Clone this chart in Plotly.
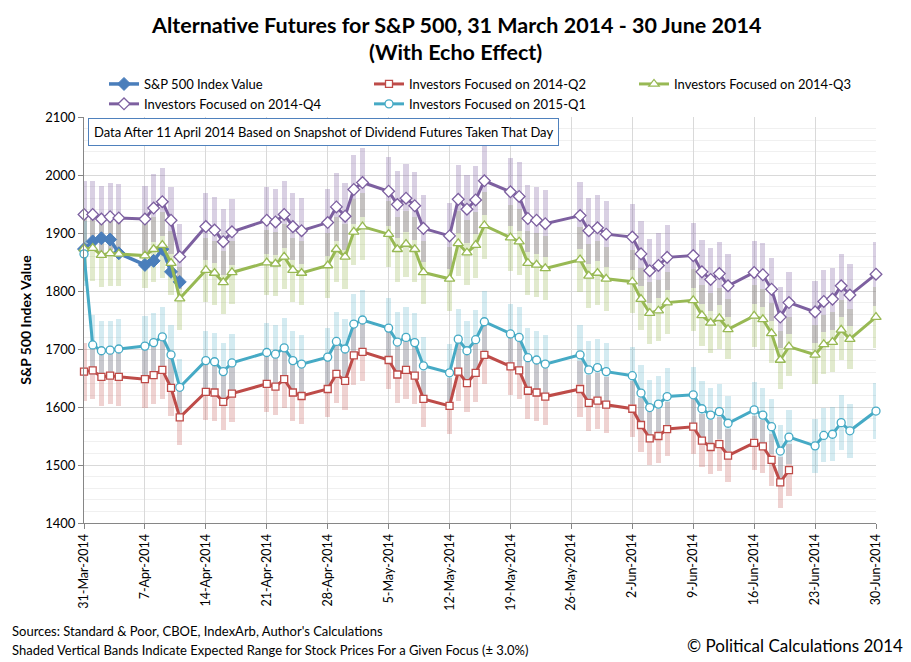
import plotly.graph_objects as go

dates = [
    "2014-03-31", "2014-04-01", "2014-04-02", "2014-04-03", "2014-04-04",
    "2014-04-07", "2014-04-08", "2014-04-09", "2014-04-10", "2014-04-11",
    "2014-04-14", "2014-04-15", "2014-04-16", "2014-04-17",
    "2014-04-21", "2014-04-22", "2014-04-23", "2014-04-24", "2014-04-25",
    "2014-04-28", "2014-04-29", "2014-04-30", "2014-05-01", "2014-05-02",
    "2014-05-05", "2014-05-06", "2014-05-07", "2014-05-08", "2014-05-09",
    "2014-05-12", "2014-05-13", "2014-05-14", "2014-05-15", "2014-05-16",
    "2014-05-19", "2014-05-20", "2014-05-21", "2014-05-22", "2014-05-23",
    "2014-05-27", "2014-05-28", "2014-05-29", "2014-05-30",
    "2014-06-02", "2014-06-03", "2014-06-04", "2014-06-05", "2014-06-06",
    "2014-06-09", "2014-06-10", "2014-06-11", "2014-06-12", "2014-06-13",
    "2014-06-16", "2014-06-17", "2014-06-18", "2014-06-19", "2014-06-20",
    "2014-06-23", "2014-06-24", "2014-06-25", "2014-06-26", "2014-06-27",
    "2014-06-30",
]

sp500 = [1872.34, 1885.52, 1890.90, 1888.77, 1865.09,
         1845.04, 1851.96, 1872.18, 1833.08, 1815.69]

q2_2014 = [1661, 1663, 1652, 1654, 1652,
           1648, 1655, 1664, 1633, 1582,
           1626, 1625, 1609, 1623,
           1640, 1635, 1648, 1625, 1619,
           1631, 1657, 1645, 1689, 1695,
           1681, 1656, 1664, 1654, 1614,
           1602, 1661, 1641, 1659, 1690,
           1670, 1663, 1628, 1625, 1618,
           1631, 1607, 1611, 1604,
           1597, 1569, 1546, 1550, 1562,
           1566, 1542, 1531, 1536, 1516,
           1538, 1532, 1509, 1470, 1491]

q3_2014 = [1873, 1874, 1862, 1865, 1864,
           1861, 1872, 1879, 1848, 1787,
           1836, 1831, 1815, 1832,
           1849, 1847, 1859, 1836, 1831,
           1844, 1872, 1859, 1902, 1911,
           1898, 1872, 1881, 1872, 1832,
           1821, 1882, 1866, 1879, 1913,
           1892, 1885, 1848, 1845, 1839,
           1854, 1826, 1831, 1821,
           1816, 1786, 1762, 1766, 1780,
           1784, 1758, 1745, 1753, 1734,
           1757, 1751, 1727, 1681, 1704,
           1690, 1708, 1712, 1733, 1717,
           1755]

q4_2014 = [1932, 1932, 1924, 1928, 1926,
           1924, 1943, 1954, 1922, 1859,
           1911, 1905, 1885, 1902,
           1922, 1919, 1932, 1911, 1904,
           1918, 1945, 1929, 1975, 1987,
           1972, 1949, 1960, 1947, 1908,
           1895, 1958, 1941, 1957, 1990,
           1971, 1963, 1925, 1922, 1916,
           1930, 1904, 1909, 1898,
           1893, 1864, 1835, 1844, 1858,
           1861, 1833, 1820, 1830, 1809,
           1832, 1828, 1803, 1755, 1780,
           1764, 1782, 1786, 1809, 1793,
           1829]

q1_2015 = [1864, 1707, 1697, 1698, 1700,
           1705, 1711, 1721, 1690, 1634,
           1680, 1678, 1661, 1676,
           1694, 1691, 1702, 1680, 1674,
           1686, 1713, 1700, 1743, 1750,
           1736, 1712, 1720, 1711, 1671,
           1659, 1717, 1697, 1716, 1747,
           1726, 1720, 1685, 1681, 1674,
           1690, 1664, 1668, 1661,
           1654, 1624, 1599, 1605, 1618,
           1621, 1597, 1586, 1592, 1572,
           1595, 1586, 1566, 1524, 1548,
           1533, 1551, 1553, 1573, 1559,
           1593]

band_pct = 0.03

tick_dates = ["2014-03-31", "2014-04-07", "2014-04-14", "2014-04-21", "2014-04-28",
              "2014-05-05", "2014-05-12", "2014-05-19", "2014-05-26", "2014-06-02",
              "2014-06-09", "2014-06-16", "2014-06-23", "2014-06-30"]
tick_labels = ["31-Mar-2014", "7-Apr-2014", "14-Apr-2014", "21-Apr-2014", "28-Apr-2014",
               "5-May-2014", "12-May-2014", "19-May-2014", "26-May-2014", "2-Jun-2014",
               "9-Jun-2014", "16-Jun-2014", "23-Jun-2014", "30-Jun-2014"]

FONT = "Lato"
W, H = 911, 662
L, R, T, B = 84, 35, 117, 139
PW, PH = W - L - R, H - T - B


def px2x(px):
    return (px - L) / PW


def px2y(py):
    return (H - B - py) / PH


fig = go.Figure()

bands = [
    (q2_2014, "rgba(192,80,77,0.26)"),
    (q3_2014, "rgba(155,187,89,0.30)"),
    (q4_2014, "rgba(128,100,162,0.30)"),
    (q1_2015, "rgba(75,172,198,0.24)"),
]
DAY = 86400000
for vals, col in bands:
    n = len(vals)
    fig.add_trace(go.Bar(
        x=dates[:n], y=[v * 2 * band_pct for v in vals],
        base=[v * (1 - band_pct) for v in vals],
        width=0.6 * DAY, marker=dict(color=col, line=dict(width=0)),
        showlegend=False, hoverinfo="skip",
    ))

series = [
    ("S&P 500 Index Value", sp500, "#4A7EBB", 3.5, dict(symbol="diamond", size=10, color="#4A7EBB",
                                                        line=dict(color="#4A7EBB", width=1))),
    ("Investors Focused on 2014-Q2", q2_2014, "#BE4B48", 3, dict(symbol="square", size=7, color="white",
                                                               line=dict(color="#BE4B48", width=1.3))),
    ("Investors Focused on 2014-Q3", q3_2014, "#98B954", 3, dict(symbol="triangle-up", size=9, color="white",
                                                               line=dict(color="#98B954", width=1.3))),
    ("Investors Focused on 2014-Q4", q4_2014, "#7D60A0", 3, dict(symbol="diamond", size=9, color="white",
                                                               line=dict(color="#7D60A0", width=1.3))),
    ("Investors Focused on 2015-Q1", q1_2015, "#46AAC5", 3, dict(symbol="circle", size=8, color="white",
                                                               line=dict(color="#46AAC5", width=1.3))),
]
for name, vals, col, lw, mk in series:
    n = len(vals)
    fig.add_trace(go.Scatter(
        x=dates[:n], y=vals, mode="lines+markers", name=name,
        line=dict(color=col, width=lw), marker=mk, cliponaxis=False,
    ))

fig.update_layout(
    width=W, height=H,
    margin=dict(l=L, r=R, t=T, b=B),
    paper_bgcolor="white", plot_bgcolor="white",
    barmode="overlay", bargap=0,
    font=dict(family=FONT, size=12, color="black"),
    legend=dict(
        orientation="h", x=px2x(104), y=px2y(69), xanchor="left", yanchor="top",
        entrywidth=220, entrywidthmode="pixels", tracegroupgap=0,
        font=dict(family=FONT, size=13), bgcolor="rgba(0,0,0,0)",
        itemwidth=30,
    ),
    showlegend=True,
)

fig.update_xaxes(
    type="date", range=["2014-03-31", "2014-06-30"],
    tickmode="array", tickvals=tick_dates, ticktext=tick_labels,
    tickangle=-90, tickfont=dict(family=FONT, size=12.5),
    showgrid=True, gridcolor="#D9D9D9", gridwidth=1,
    showline=True, linecolor="#868686", linewidth=1,
    ticks="outside", ticklen=5, tickcolor="#868686",
    zeroline=False,
)
fig.update_yaxes(
    range=[1400, 2100], tickmode="linear", tick0=1400, dtick=100,
    tickfont=dict(family=FONT, size=13),
    showgrid=True, gridcolor="#D9D9D9", gridwidth=1,
    minor=dict(dtick=20, showgrid=True, gridcolor="#F0F0F0", gridwidth=1),
    showline=True, linecolor="#868686", linewidth=1,
    ticks="outside", ticklen=5, tickcolor="#868686",
    zeroline=False,
    title=dict(text="<b>S&P 500 Index Value</b>", font=dict(family=FONT, size=14), standoff=10),
)

for txt, py in [("Alternative Futures for S&P 500, 31 March 2014 - 30 June 2014", 25),
                ("(With Echo Effect)", 52)]:
    fig.add_annotation(
        x=px2x(W / 2), y=px2y(py), xref="paper", yref="paper", xanchor="center", yanchor="middle",
        text="<b>" + txt + "</b>", showarrow=False,
        font=dict(family=FONT, size=21.5, color="black"),
    )

fig.add_annotation(
    x=px2x(88), y=px2y(118), xref="paper", yref="paper", xanchor="left", yanchor="top",
    text="Data After 11 April 2014 Based on Snapshot of Dividend Futures Taken That Day",
    showarrow=False, font=dict(family=FONT, size=13, color="black"),
    bordercolor="#4F81BD", borderwidth=1, borderpad=5, bgcolor="white",
)
fig.add_annotation(
    x=px2x(10), y=px2y(631), xref="paper", yref="paper", xanchor="left", yanchor="middle",
    text="Sources: Standard & Poor, CBOE, IndexArb, Author's Calculations",
    showarrow=False, font=dict(family=FONT, size=13, color="black"),
)
fig.add_annotation(
    x=px2x(10), y=px2y(650), xref="paper", yref="paper", xanchor="left", yanchor="middle",
    text="Shaded Vertical Bands Indicate Expected Range for Stock Prices For a Given Focus (± 3.0%)",
    showarrow=False, font=dict(family=FONT, size=13, color="black"),
)
fig.add_annotation(
    x=px2x(905), y=px2y(645), xref="paper", yref="paper", xanchor="right", yanchor="middle",
    text="© Political Calculations 2014",
    showarrow=False, font=dict(family=FONT, size=17, color="black"),
)

fig.write_html("out.html", config={"displayModeBar": False},
               post_script="document.body.style.margin='0px';")
